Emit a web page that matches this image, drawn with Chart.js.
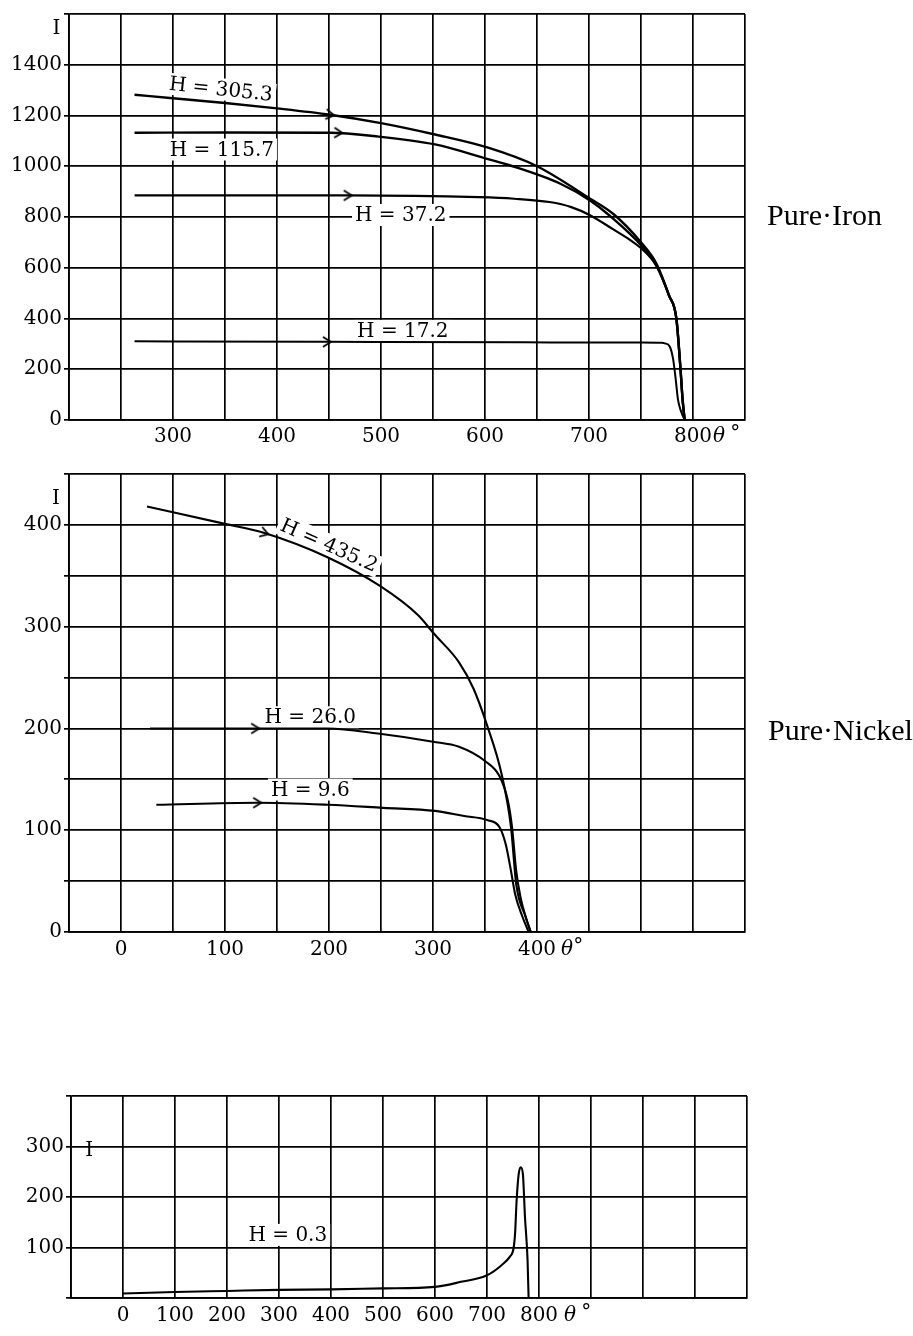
<!DOCTYPE html>
<html>
<head>
<meta charset="utf-8">
<script src="https://cdn.jsdelivr.net/npm/chart.js@4.4.1/dist/chart.umd.min.js"></script>
<style>
  body { margin: 0; background: #fff; }
  #page { position: relative; width: 913px; height: 1336px; }
  canvas { position: absolute; left: 0; }
</style>
</head>
<body>
<div id="page">
  <canvas id="iron" width="913" height="460" style="top:0px"></canvas>
  <canvas id="nickel" width="913" height="520" style="top:460px"></canvas>
  <canvas id="weak" width="913" height="276" style="top:1060px"></canvas>
</div>
<script>
'use strict'

// ---- Pure Iron (temperature θ°, magnetisation I) ----
const ironT305 = [263, 300, 350, 400, 451, 500, 552, 603, 650, 700, 724, 750, 765, 777, 784, 788, 790, 792];
const ironI305 = [1282, 1268, 1249, 1228, 1203, 1170, 1125, 1073, 1000, 875, 810, 700, 615, 490, 400, 200, 80, 0];
const ironT115 = [263, 350, 451, 493, 552, 603, 625, 673, 701, 720, 752, 765, 777, 784, 788, 790, 792];
const ironI115 = [1132, 1133, 1132, 1119, 1086, 1028, 1002, 930, 865, 805, 680, 607, 490, 400, 200, 80, 0];
const ironT37 = [263, 350, 468, 594, 628, 662, 683, 701, 723, 740, 752, 765, 777, 784, 788, 790, 792];
const ironI37 = [885, 885, 885, 878, 872, 859, 839, 807, 752, 708, 670, 606, 490, 400, 200, 80, 0];
const ironT17 = [263, 448, 638, 700, 750, 770, 773, 777.6, 780.8, 783, 785.6, 788.8, 792];
const ironI17 = [310, 308, 306, 305, 305, 304, 302, 290, 242, 174, 79, 31, 0];
const ironArrowT = [451, 459, 468, 448];
const ironArrowI = [1203, 1132, 885, 308];
const ironArrowRot = [8, 2, 0, 0];
const ironTempTicks = [300, 400, 500, 600, 700, 800];
const ironITicks = [0, 200, 400, 600, 800, 1000, 1200, 1400];

// ---- Pure Nickel ----
const niT435 = [25, 100, 138, 199, 249, 286, 301, 325, 339, 352, 366, 375, 380, 389, 394];
const niI435 = [418, 401, 392, 368, 340, 311, 293, 265, 239, 203, 155, 103, 47, 15, 0];
const niT26 = [28, 129, 199, 247, 300, 325, 350, 364, 372, 376, 380, 384, 390, 394];
const niI26 = [200, 200, 200, 195, 187, 182, 168, 153, 129, 103, 60, 35, 12, 0];
const niT9 = [34, 131, 199, 252, 302, 330, 352, 364, 370, 375, 379, 386, 392];
const niI9 = [125, 127, 125, 122, 119, 114, 110, 103, 86, 60, 37, 15, 0];
const niArrowT = [138, 129, 131];
const niArrowI = [392, 200, 127];
const niArrowRot = [18, 0, 0];
const niTempTicks = [0, 100, 200, 300, 400];
const niITicks = [0, 100, 200, 300, 400];

// ---- H = 0.3 (weak field) ----
const weakT = [0, 100, 200, 300, 400, 500, 600, 650, 700, 728, 744, 751, 754, 757, 761, 765, 769, 773, 778, 780];
const weakI = [9, 12, 14, 16, 17, 19, 22, 32, 45, 65, 82, 98, 128, 194, 246, 259, 246, 161, 75, 0];
const weakTempTicks = [0, 100, 200, 300, 400, 500, 600, 700, 800];
const weakITicks = [100, 200, 300];

const tickFont = { family: '"DejaVu Serif"', size: 20 };
const labelFont = '20px "DejaVu Serif"';

// 矢印(>)の点スタイル
const arrowImg = document.createElement('canvas');
arrowImg.width = 14;
arrowImg.height = 14;
(() => {
  const c = arrowImg.getContext('2d');
  c.strokeStyle = '#000';
  c.lineWidth = 1.8;
  c.beginPath();
  c.moveTo(3, 2);
  c.lineTo(11, 7);
  c.lineTo(3, 12);
  c.stroke();
})();

const toPts = (xs, ys) => xs.map((x, i) => ({ x: x, y: ys[i] }));

function curve(xs, ys, w) {
  return {
    data: toPts(xs, ys),
    showLine: true,
    borderColor: '#000',
    borderWidth: w,
    pointRadius: 0,
    cubicInterpolationMode: 'monotone',
  };
}

function arrows(xs, ys, rot) {
  return {
    data: toPts(xs, ys),
    showLine: false,
    pointStyle: arrowImg,
    pointRadius: 7,
    rotation: (c) => rot[c.dataIndex],
  };
}

// 文字（H = …, I, θ°, 右側の名前）を描くプラグイン
function notes(cfg) {
  return {
    id: 'notes',
    beforeDatasetsDraw(chart) {
      const ctx = chart.ctx;
      const xs = chart.scales.x, ys = chart.scales.y;
      cfg.labels.forEach(l => {
        ctx.save();
        ctx.font = labelFont;
        const w = ctx.measureText(l.text).width;
        ctx.translate(xs.getPixelForValue(l.x), ys.getPixelForValue(l.y));
        ctx.rotate(l.rot * Math.PI / 180);
        ctx.fillStyle = '#fff';
        ctx.fillRect(-w / 2 - 3, -11, w + 6, 22);
        ctx.restore();
      });
    },
    afterDatasetsDraw(chart) {
      const ctx = chart.ctx;
      const xs = chart.scales.x, ys = chart.scales.y;
      ctx.save();
      ctx.fillStyle = '#000';
      ctx.textBaseline = 'middle';
      ctx.textAlign = 'center';
      ctx.font = labelFont;
      cfg.labels.forEach(l => {
        ctx.save();
        ctx.translate(xs.getPixelForValue(l.x), ys.getPixelForValue(l.y));
        ctx.rotate(l.rot * Math.PI / 180);
        ctx.fillText(l.text, 0, 1);
        ctx.restore();
      });
      // 縦軸名 I
      ctx.fillText('I', xs.getPixelForValue(cfg.iAt[0]), ys.getPixelForValue(cfg.iAt[1]));
      // θ°
      const lw = ctx.measureText(String(cfg.thetaAt)).width;
      const tx = xs.getPixelForValue(cfg.thetaAt) + lw / 2 + cfg.thetaGap;
      const ty = xs.top + cfg.tickPad + 12;
      ctx.textAlign = 'left';
      ctx.font = 'italic 20px "DejaVu Serif"';
      ctx.fillText('θ', tx, ty);
      const thw = ctx.measureText('θ').width;
      ctx.font = '20px "DejaVu Serif"';
      ctx.fillText('°', tx + thw + cfg.degGap, ty - 3);
      // 右側の名前
      if (cfg.side) {
        ctx.font = '30px "Liberation Serif"';
        ctx.fillText(cfg.side, cfg.sideX, ys.getPixelForValue(cfg.sideY));
      }
      ctx.restore();
    },
  };
}

function makeChart(id, o) {
  return new Chart(document.getElementById(id), {
    type: 'scatter',
    data: { datasets: o.datasets },
    options: {
      responsive: false,
      animation: false,
      devicePixelRatio: 1,
      layout: { padding: o.padding },
      plugins: { legend: { display: false }, tooltip: { enabled: false } },
      scales: {
        x: {
          type: 'linear',
          min: o.xMin, max: o.xMax,
          afterFit: (s) => { s.height = 30; },
          grid: { color: '#000', lineWidth: 1.7, drawTicks: false },
          border: { color: '#000', width: 1.8 },
          ticks: {
            stepSize: o.xStep,
            autoSkip: false,
            maxRotation: 0,
            padding: o.tickPad,
            color: '#000',
            font: tickFont,
            callback: (v) => o.xTicks.includes(v) ? String(v) : '',
          },
        },
        y: {
          min: o.yMin, max: o.yMax,
          afterFit: (s) => { s.width = o.left; },
          grid: { color: '#000', lineWidth: 1.7, tickLength: 5 },
          border: { color: '#000', width: 1.8 },
          ticks: {
            stepSize: o.yStep,
            autoSkip: false,
            padding: 2,
            color: '#000',
            font: tickFont,
            callback: (v) => o.yTicks.includes(v) ? String(v) : '',
          },
        },
      },
    },
    plugins: [notes(o.notes)],
  });
}

// Pure Iron
makeChart('iron', {
  left: 69,
  padding: { top: 10, right: 168, bottom: 10, left: 0 },
  xMin: 200, xMax: 850, xStep: 50, xTicks: ironTempTicks,
  yMin: 0, yMax: 1600, yStep: 200, yTicks: ironITicks,
  tickPad: 5,
  datasets: [
    curve(ironT305, ironI305, 2.4),
    curve(ironT115, ironI115, 2.4),
    curve(ironT37, ironI37, 2.2),
    curve(ironT17, ironI17, 2),
    arrows(ironArrowT, ironArrowI, ironArrowRot),
  ],
  notes: {
    labels: [
      { text: 'H = 305.3', x: 346, y: 1304, rot: 6 },
      { text: 'H = 115.7', x: 347, y: 1066, rot: 0 },
      { text: 'H = 37.2', x: 519, y: 808, rot: 0 },
      { text: 'H = 17.2', x: 521, y: 351, rot: 0 },
    ],
    iAt: [188, 1542],
    thetaAt: 800, tickPad: 5, thetaGap: 1, degGap: 5,
    side: 'Pure·Iron', sideX: 767, sideY: 800,
  },
});

// Pure Nickel
makeChart('nickel', {
  left: 69,
  padding: { top: 12, right: 168, bottom: 18, left: 0 },
  xMin: -50, xMax: 600, xStep: 50, xTicks: niTempTicks,
  yMin: 0, yMax: 450, yStep: 50, yTicks: niITicks,
  tickPad: 6,
  datasets: [
    curve(niT435, niI435, 2.1),
    curve(niT26, niI26, 2.1),
    curve(niT9, niI9, 2.1),
    arrows(niArrowT, niArrowI, niArrowRot),
  ],
  notes: {
    labels: [
      { text: 'H = 435.2', x: 200, y: 380, rot: 24 },
      { text: 'H = 26.0', x: 182, y: 211, rot: 0 },
      { text: 'H = 9.6', x: 182, y: 140, rot: 0 },
    ],
    iAt: [-62.5, 426],
    thetaAt: 400, tickPad: 6, thetaGap: 5, degGap: 0,
    side: 'Pure·Nickel', sideX: 768, sideY: 196,
  },
});

// H = 0.3
makeChart('weak', {
  left: 71,
  padding: { top: 36, right: 166, bottom: 8, left: 0 },
  xMin: -100, xMax: 1200, xStep: 100, xTicks: weakTempTicks,
  yMin: 0, yMax: 400, yStep: 100, yTicks: weakITicks,
  tickPad: 6,
  datasets: [
    curve(weakT, weakI, 2.1),
  ],
  notes: {
    labels: [
      { text: 'H = 0.3', x: 317, y: 125, rot: 0 },
    ],
    iAt: [-65, 291],
    thetaAt: 800, tickPad: 6, thetaGap: 6, degGap: 5,
    side: null,
  },
});
</script>
</body>
</html>
